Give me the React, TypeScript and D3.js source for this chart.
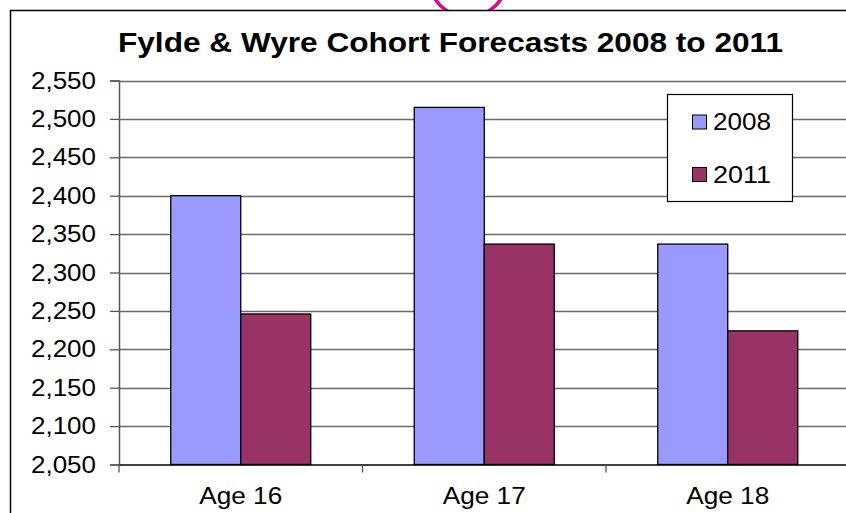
import React, { useEffect, useRef } from 'react';
import * as d3 from 'd3';

const categories = ['Age 16', 'Age 17', 'Age 18'];
const seriesNames = ['2008', '2011'];
const values2008 = [2400, 2515, 2337];
const values2011 = [2246, 2337, 2224];
const yTicks = [2050, 2100, 2150, 2200, 2250, 2300, 2350, 2400, 2450, 2500, 2550];
const colors = ['#9999FF', '#993366'];
const title = 'Fylde & Wyre Cohort Forecasts 2008 to 2011';

const FONT = '"Liberation Sans", Arial, sans-serif';

const App: React.FC = () => {
  const svgRef = useRef<SVGSVGElement | null>(null);

  useEffect(() => {
    if (!svgRef.current) return;
    const W = 846;
    const H = 513;
    const svg = d3.select(svgRef.current);
    svg.selectAll('*').remove();
    svg.attr('width', W).attr('height', H);

    svg.append('rect').attr('width', W).attr('height', H).attr('fill', '#fff');

    // pink ring peeking above the chart box
    svg.append('circle')
      .attr('cx', 468).attr('cy', -21.7).attr('r', 38.8)
      .attr('fill', 'none').attr('stroke', '#ec008c').attr('stroke-width', 3.5);

    // chart box
    svg.append('rect')
      .attr('x', 10.5).attr('y', 10.5).attr('width', W + 20).attr('height', H + 20)
      .attr('fill', '#fff').attr('stroke', '#000').attr('stroke-width', 1.5);

    svg.append('text')
      .attr('x', 450.5).attr('y', 52)
      .attr('text-anchor', 'middle')
      .attr('font-family', FONT).attr('font-weight', 'bold').attr('font-size', 28)
      .attr('textLength', 665).attr('lengthAdjust', 'spacingAndGlyphs')
      .text(title);

    const left = 119;
    const right = 849.5;
    const top = 80.5;
    const bottom = 464.5;

    const y = d3.scaleLinear().domain([2050, 2550]).range([bottom, top]);
    const x0 = d3.scaleBand<string>().domain(categories).range([left, right]).paddingInner(0).paddingOuter(0);
    const groupW = x0.bandwidth() * 0.575;
    const x1 = d3.scaleBand<string>().domain(seriesNames).range([0, groupW]);

    // gridlines
    svg.append('g').selectAll('line')
      .data(yTicks.slice(1))
      .enter().append('line')
      .attr('x1', left).attr('x2', W)
      .attr('y1', d => Math.round(y(d)) + 0.5).attr('y2', d => Math.round(y(d)) + 0.5)
      .attr('stroke', '#6a6a6a').attr('stroke-width', 1.3);

    // bars
    const data = categories.map((c, i) => ({ c, vals: [values2008[i], values2011[i]] }));
    const g = svg.append('g');
    data.forEach(d => {
      const gx = (x0(d.c) as number) + (x0.bandwidth() - groupW) / 2;
      seriesNames.forEach((s, j) => {
        g.append('rect')
          .attr('x', gx + (x1(s) as number))
          .attr('y', y(d.vals[j]))
          .attr('width', x1.bandwidth())
          .attr('height', bottom - y(d.vals[j]))
          .attr('fill', colors[j])
          .attr('stroke', '#000').attr('stroke-width', 1.3);
      });
    });

    // y axis
    const ya = svg.append('g').attr('transform', `translate(${left},0)`)
      .call(d3.axisLeft(y).tickValues(yTicks).tickSize(9).tickPadding(14).tickFormat(d3.format(',')));
    ya.select('.domain').attr('stroke', '#555').attr('stroke-width', 1.5);
    ya.selectAll('.tick line').attr('stroke', '#555').attr('stroke-width', 1.3);
    ya.selectAll('.tick text')
      .attr('font-family', FONT).attr('font-size', 24).attr('fill', '#000')
      .attr('textLength', 65).attr('lengthAdjust', 'spacingAndGlyphs');

    // x axis
    const xa = svg.append('g').attr('transform', `translate(0,${bottom})`)
      .call(d3.axisBottom(x0).tickSize(0).tickPadding(23.5));
    xa.select('.domain').attr('stroke', '#000').attr('stroke-width', 1.5);
    xa.selectAll('.tick text')
      .attr('font-family', FONT).attr('font-size', 23).attr('fill', '#000')
      .attr('textLength', 83).attr('lengthAdjust', 'spacingAndGlyphs');
    svg.append('g').selectAll('line')
      .data(categories.map(c => x0(c) as number).concat([right]))
      .enter().append('line')
      .attr('x1', d => d).attr('x2', d => d)
      .attr('y1', bottom).attr('y2', bottom + 8)
      .attr('stroke', '#555').attr('stroke-width', 1.3);

    // legend
    const lg = svg.append('g');
    lg.append('rect')
      .attr('x', 667.5).attr('y', 94.5).attr('width', 125).attr('height', 107)
      .attr('fill', '#fff').attr('stroke', '#000').attr('stroke-width', 1.2);
    seriesNames.forEach((s, i) => {
      const ly = 115 + i * 52.5;
      lg.append('rect')
        .attr('x', 692.5).attr('y', ly).attr('width', 14).attr('height', 14)
        .attr('fill', colors[i]).attr('stroke', '#000').attr('stroke-width', 1);
      lg.append('text')
        .attr('x', 713).attr('y', ly + 15)
        .attr('font-family', FONT).attr('font-size', 23)
        .attr('textLength', 58).attr('lengthAdjust', 'spacingAndGlyphs')
        .text(s);
    });
  }, []);

  return (
    <svg ref={svgRef} style={{ position: 'absolute', left: 0, top: 0, display: 'block' }} />
  );
};

export default App;
